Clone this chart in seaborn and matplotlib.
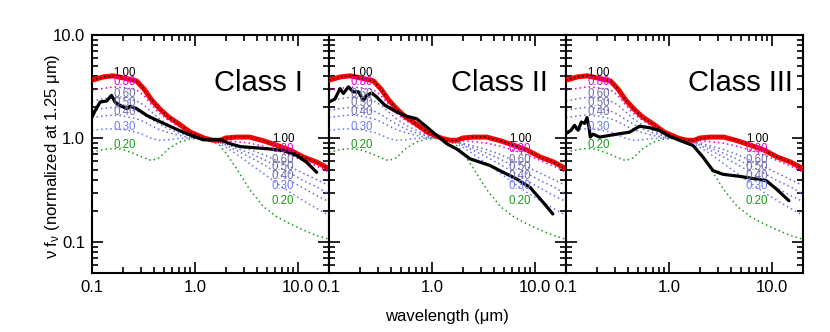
import numpy as np
import pandas as pd
import matplotlib
matplotlib.use('Agg')
import matplotlib.pyplot as plt
import seaborn as sns
from matplotlib.ticker import FixedLocator, FixedFormatter, LogLocator, NullFormatter

sns.set_style('ticks')
plt.rcParams['font.family'] = ['Liberation Sans', 'DejaVu Sans']
plt.rcParams['mathtext.default'] = 'regular'
plt.rcParams['text.color'] = 'black'
plt.rcParams['axes.labelcolor'] = 'black'
plt.rcParams['xtick.color'] = 'black'
plt.rcParams['ytick.color'] = 'black'
plt.rcParams['axes.edgecolor'] = 'black'

# ---------------- data ----------------
wave = [0.1, 0.13, 0.16, 0.2, 0.27, 0.32, 0.38, 0.45, 0.55, 0.7, 0.9, 1.25,
        1.5, 1.75, 2.0, 2.5, 3.4, 4.6, 6.2, 8.4, 11.3, 15.2, 20.0]

model_100 = [3.66, 3.94, 4.03, 3.85, 3.60, 3.00, 2.35, 1.95, 1.62, 1.38, 1.15, 1.00,
             0.96, 0.96, 1.01, 1.03, 1.03, 0.95, 0.86, 0.77, 0.66, 0.59, 0.51]
model_080 = [2.92, 3.05, 3.15, 3.10, 2.95, 2.60, 2.10, 1.75, 1.50, 1.30, 1.12, 1.00,
             0.97, 0.95, 0.95, 0.93, 0.90, 0.84, 0.77, 0.69, 0.61, 0.54, 0.47]
model_060 = [2.30, 2.42, 2.50, 2.45, 2.30, 2.10, 1.80, 1.55, 1.35, 1.20, 1.07, 1.00,
             0.97, 0.93, 0.90, 0.85, 0.78, 0.70, 0.61, 0.53, 0.46, 0.40, 0.35]
model_050 = [1.87, 1.95, 2.00, 1.97, 1.85, 1.70, 1.52, 1.38, 1.24, 1.13, 1.05, 1.00,
             0.96, 0.92, 0.88, 0.81, 0.72, 0.63, 0.54, 0.46, 0.39, 0.34, 0.29]
model_040 = [1.59, 1.65, 1.68, 1.65, 1.55, 1.45, 1.32, 1.22, 1.14, 1.07, 1.02, 1.00,
             0.96, 0.91, 0.86, 0.77, 0.66, 0.56, 0.47, 0.39, 0.33, 0.28, 0.245]
model_030 = [1.20, 1.23, 1.24, 1.22, 1.15, 1.08, 1.00, 0.96, 0.97, 1.00, 1.01, 1.00,
             0.95, 0.89, 0.82, 0.71, 0.57, 0.46, 0.37, 0.30, 0.25, 0.21, 0.18]
model_020 = [0.74, 0.78, 0.80, 0.78, 0.70, 0.65, 0.61, 0.65, 0.79, 0.92, 0.99, 1.00,
             0.93, 0.85, 0.72, 0.52, 0.32, 0.22, 0.175, 0.149, 0.13, 0.115, 0.106]

model_levels = ['1.00', '0.80', '0.60', '0.50', '0.40', '0.30', '0.20']
model_values = [model_100, model_080, model_060, model_050, model_040, model_030, model_020]
line_colors = ['black', '#e000e0', '#6a6ad8', '#6a6ae0', '#6a6ae8', '#6675ff', '#1a9a1a']
label_colors = ['black', '#e000e0', '#6f6fa8', '#6f6fb0', '#6f6fb8', '#6f7cff', '#1a9a1a']
left_label_y = [4.31, 3.50, 2.67, 2.20, 1.80, 1.29, 0.87]
right_label_y = [0.99, 0.794, 0.62, 0.526, 0.437, 0.35, 0.25]

class_names = ['Class I', 'Class II', 'Class III']

obs_wave_1 = [0.1, 0.107, 0.12, 0.139, 0.15, 0.155, 0.167, 0.187, 0.217, 0.234, 0.272,
              0.34, 0.425, 0.572, 0.769, 0.962, 1.2, 1.75, 2.19, 2.74, 3.97, 5.35,
              7.2, 9.7, 12.1, 15.2]
obs_flux_1 = [1.61, 1.85, 2.25, 2.30, 2.52, 2.61, 2.25, 2.09, 1.94, 2.05, 1.94,
              1.67, 1.50, 1.31, 1.15, 1.05, 0.97, 0.97, 0.89, 0.835, 0.81, 0.79,
              0.764, 0.684, 0.589, 0.47]

obs_wave_2 = [0.1, 0.114, 0.128, 0.138, 0.154, 0.172, 0.193, 0.216, 0.232, 0.26, 0.29,
              0.35, 0.454, 0.568, 0.71, 0.889, 1.11, 1.39, 1.74, 2.34, 2.93, 3.66,
              4.92, 6.63, 8.93, 12.0, 14.9]
obs_flux_2 = [2.25, 2.40, 3.03, 2.72, 3.15, 2.82, 2.82, 2.34, 2.61, 2.75, 2.52,
              2.09, 1.80, 1.64, 1.55, 1.29, 1.07, 0.89, 0.79, 0.635, 0.589, 0.547,
              0.47, 0.406, 0.337, 0.241, 0.186]

obs_wave_3 = [0.1, 0.112, 0.121, 0.131, 0.141, 0.152, 0.160, 0.167, 0.172, 0.183, 0.212,
              0.265, 0.331, 0.414, 0.518, 0.648, 0.811, 1.01, 1.27, 1.71, 2.14, 2.67,
              3.34, 4.84, 6.54, 8.81, 11.0, 14.6]
obs_flux_3 = [1.11, 1.20, 1.34, 1.20, 1.44, 1.40, 1.59, 1.30, 1.03, 1.10, 1.03,
              1.07, 1.11, 1.15, 1.31, 1.27, 1.19, 1.05, 0.957, 0.855, 0.66, 0.489,
              0.45, 0.43, 0.41, 0.39, 0.325, 0.25]

obs_waves = [obs_wave_1, obs_wave_2, obs_wave_3]
obs_fluxes = [obs_flux_1, obs_flux_2, obs_flux_3]

x_ticks = [0.1, 1.0, 10.0]
x_tick_labels = ['0.1', '1.0', '10.0']
y_ticks = [0.1, 1.0, 10.0]
y_tick_labels = ['0.1', '1.0', '10.0']

# ---------------- figure ----------------
fig, axes = plt.subplots(1, 3, figsize=(8.3, 3.32), dpi=100, sharey=True)
fig.subplots_adjust(left=92/830, right=803/830, top=1-35/332, bottom=1-273/332, wspace=0)

dot = (0, (1, 2.0))
for i, ax in enumerate(axes):
    ax.set_xscale('log')
    ax.set_yscale('log')
    # model curves (dotted)
    for lvl, vals, col in list(zip(model_levels, model_values, line_colors))[::-1]:
        if lvl == '1.00':
            continue
        sns.lineplot(x=wave, y=vals, ax=ax, color=col, lw=1.1, linestyle=dot,
                     estimator=None, sort=False, zorder=2)
    # thick red with black dotted 1.00 model on top
    sns.lineplot(x=wave, y=model_100, ax=ax, color='red', lw=3.6,
                 estimator=None, sort=False, zorder=3)
    sns.lineplot(x=wave, y=model_100, ax=ax, color='black', lw=1.0, linestyle=dot,
                 estimator=None, sort=False, zorder=4)
    # observed SED
    sns.lineplot(x=obs_waves[i], y=obs_fluxes[i], ax=ax, color='black', lw=2.3,
                 estimator=None, sort=False, zorder=5)

    # level labels
    for lvl, yl, yr, col in zip(model_levels, left_label_y, right_label_y, label_colors):
        ax.text(0.16, yl, lvl, color=col, fontsize=8.3, ha='left', va='center', zorder=6)
        ax.text(5.56, yr, lvl, color=col, fontsize=8.3, ha='left', va='center', zorder=6)

    ax.text(0.514, 0.765, class_names[i], transform=ax.transAxes, fontsize=21,
            ha='left', va='baseline', color='black')

    ax.set_xlim(0.1, 20)
    ax.set_ylim(0.05, 10)
    ax.xaxis.set_major_locator(FixedLocator(x_ticks))
    ax.xaxis.set_major_formatter(FixedFormatter(x_tick_labels))
    ax.xaxis.set_minor_locator(LogLocator(base=10, subs=np.arange(2, 10)))
    ax.xaxis.set_minor_formatter(NullFormatter())
    ax.yaxis.set_major_locator(FixedLocator(y_ticks))
    ax.yaxis.set_major_formatter(FixedFormatter(y_tick_labels))
    ax.yaxis.set_minor_locator(LogLocator(base=10, subs=np.arange(2, 10)))
    ax.yaxis.set_minor_formatter(NullFormatter())
    ax.tick_params(which='both', direction='in', top=True, right=True,
                   width=1.2, colors='black', labelcolor='black', labelsize=12, pad=5)
    ax.tick_params(which='major', length=8)
    ax.tick_params(which='minor', length=4)
    if i > 0:
        ax.tick_params(labelleft=False)
    for sp in ax.spines.values():
        sp.set_linewidth(1.5)
        sp.set_color('black')
    ax.set_xlabel('')
    ax.set_ylabel('')

fig.text(447/830, 1-316/332, 'wavelength (μm)', ha='center', va='center',
         fontsize=12, color='black')
fig.text(52/830, 1-156/332, 'ν f$_{ν}$ (normalized at 1.25 μm)', rotation=90,
         ha='center', va='center', fontsize=12, color='black')

fig.savefig('out.png', dpi=100)
